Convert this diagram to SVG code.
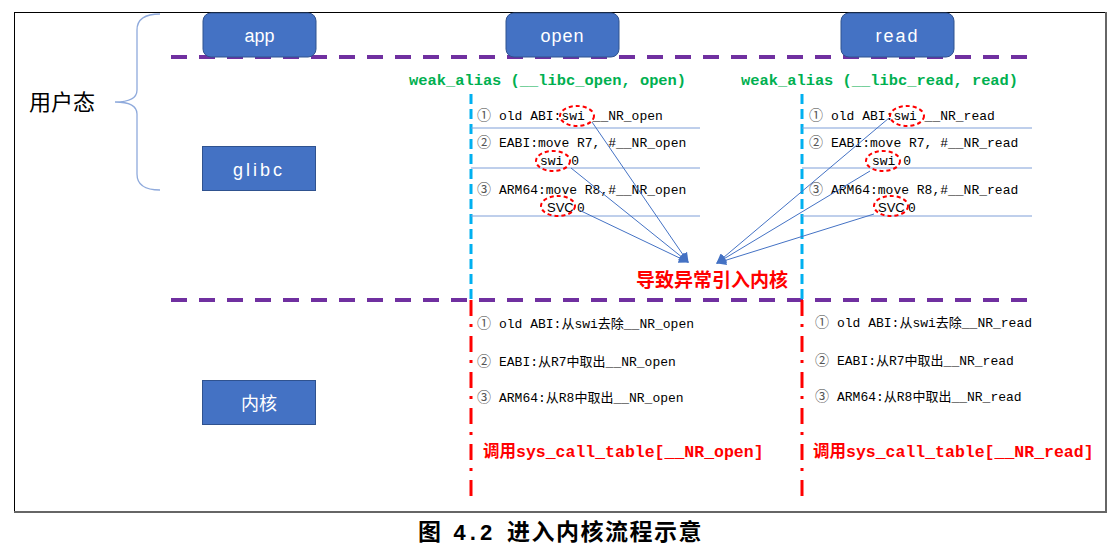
<svg xmlns="http://www.w3.org/2000/svg" width="1117" height="559" viewBox="0 0 1117 559">
<defs>
<style>
.box{fill:#4472C4;stroke:#2F528F;stroke-width:1}
.bt{fill:#fff;font-family:"Liberation Sans","Noto Sans CJK SC",sans-serif;font-size:18px;text-anchor:middle}
.purple{stroke:#7030A0;stroke-width:4;stroke-dasharray:16 12;fill:none}
.cyan{stroke:#00B0F0;stroke-width:3;stroke-dasharray:10 5;fill:none}
.reddash{stroke:#FF0000;stroke-width:3;stroke-dasharray:16 8 3 9;fill:none}
.sep{stroke:#7F9FD8;stroke-width:1}
.green{fill:#00B050;font-family:"Liberation Mono",monospace;font-weight:bold;font-size:15.4px}
.code{fill:#000;font-family:"Liberation Mono","Noto Sans CJK SC",monospace;font-size:13px}
.sym{fill:#000;font-family:"Liberation Sans","Noto Sans CJK SC",sans-serif;font-size:13px}
.circ{fill:#555;font-family:"Noto Sans CJK SC","DejaVu Sans",sans-serif;font-size:14px}
.ell{fill:none;stroke:#FF0000;stroke-width:2;stroke-dasharray:4 3}
.conn{stroke:#4472C4;stroke-width:1;fill:none}
.redb{fill:#FF0000;font-family:"Liberation Mono","Noto Sans CJK SC",monospace;font-weight:bold;font-size:16.5px}
.cap{fill:#000;font-family:"Noto Sans CJK SC",sans-serif;font-weight:bold;font-size:23px}
</style>
<marker id="ah" viewBox="0 0 10 10" refX="9" refY="5" markerWidth="10" markerHeight="10" markerUnits="userSpaceOnUse" orient="auto">
<path d="M0,0 L10,5 L0,10 z" fill="#4472C4"/>
</marker>
</defs>
<rect x="0" y="0" width="1117" height="559" fill="#fff"/>
<!-- frame -->
<line x1="14" y1="12.5" x2="1106" y2="12.5" stroke="#000" stroke-width="1"/>
<line x1="14.5" y1="12" x2="14.5" y2="512" stroke="#000" stroke-width="1"/>
<line x1="1106" y1="12" x2="1106" y2="513" stroke="#666" stroke-width="2"/>
<line x1="14" y1="512" x2="1107" y2="512" stroke="#666" stroke-width="2"/>

<!-- brace and label -->
<g id="userspace">
<path d="M160,14 Q137,14 137,30 L137,90 Q137,102 115,102 Q137,102 137,114 L137,174 Q137,190 160,190" fill="none" stroke="#8FAADC" stroke-width="1.3"/>
<text x="29" y="110" font-family="Liberation Sans,'Noto Sans CJK SC',sans-serif" font-size="22" fill="#000">用户态</text>
</g>

<!-- separators -->
<g id="layers">
<line class="purple" x1="171" y1="57" x2="1027" y2="57"/>
<line class="purple" x1="171" y1="300" x2="1027" y2="300"/>
<line class="cyan" x1="471" y1="94" x2="471" y2="300"/>
<line class="cyan" x1="802" y1="94" x2="802" y2="300"/>
<line class="reddash" x1="471" y1="300" x2="471" y2="498"/>
<line class="reddash" x1="802" y1="300" x2="802" y2="498"/>
</g>

<g id="app"><rect class="box" x="203" y="13" width="113" height="44" rx="8"/><text class="bt" x="259.5" y="42">app</text></g>
<g id="open"><rect class="box" x="506" y="13" width="113" height="44" rx="8"/><text class="bt" x="562.5" y="42" letter-spacing="1">open</text></g>
<g id="read"><rect class="box" x="841" y="13" width="113" height="44" rx="8"/><text class="bt" x="897.5" y="42" letter-spacing="2">read</text></g>
<g id="glibc"><rect class="box" x="202.5" y="146.5" width="113" height="44"/><text class="bt" x="259" y="176" letter-spacing="3">glibc</text></g>
<g id="kernel"><rect class="box" x="202.5" y="380.5" width="113" height="44"/><text class="bt" x="259" y="410" font-size="20">内核</text></g>

<!-- glibc open column -->
<g id="glibc-open">
<text class="green" x="409" y="85">weak_alias (__libc_open, open)</text>
<text class="circ" x="477" y="120">①</text>
<text class="code" x="499" y="120">old ABI:swi __NR_open</text>
<line class="sep" x1="471" y1="128" x2="700" y2="128"/>
<text class="circ" x="477" y="147">②</text>
<text class="code" x="499" y="147">EABI:move R7, #__NR_open</text>
<text class="code" x="540" y="165">swi 0</text>
<line class="sep" x1="471" y1="168" x2="700" y2="168"/>
<text class="circ" x="477" y="194">③</text>
<text class="code" x="499" y="194">ARM64:move R8,#__NR_open</text>
<text class="sym" x="547" y="212">SVC</text>
<text class="code" x="577" y="212">0</text>
<line class="sep" x1="471" y1="216" x2="700" y2="216"/>
<ellipse class="ell" cx="577" cy="116" rx="17" ry="10"/>
<ellipse class="ell" cx="553" cy="161" rx="17" ry="10"/>
<ellipse class="ell" cx="558" cy="206" rx="17" ry="10"/>
</g>

<!-- glibc read column -->
<g id="glibc-read">
<text class="green" x="741" y="85">weak_alias (__libc_read, read)</text>
<text class="circ" x="809" y="120">①</text>
<text class="code" x="831" y="120">old ABI:swi __NR_read</text>
<line class="sep" x1="802" y1="128" x2="1032" y2="128"/>
<text class="circ" x="809" y="147">②</text>
<text class="code" x="831" y="147">EABI:move R7, #__NR_read</text>
<text class="code" x="872" y="165">swi 0</text>
<line class="sep" x1="802" y1="168" x2="1032" y2="168"/>
<text class="circ" x="809" y="194">③</text>
<text class="code" x="831" y="194">ARM64:move R8,#__NR_read</text>
<text class="sym" x="878" y="212">SVC</text>
<text class="code" x="908" y="212">0</text>
<line class="sep" x1="802" y1="216" x2="1032" y2="216"/>
<ellipse class="ell" cx="907" cy="116" rx="17" ry="10"/>
<ellipse class="ell" cx="883" cy="161" rx="17" ry="10"/>
<ellipse class="ell" cx="891" cy="206" rx="17" ry="10"/>
</g>

<!-- connectors -->
<g id="connectors">
<line class="conn" x1="592" y1="122" x2="688" y2="262" marker-end="url(#ah)"/>
<line class="conn" x1="571" y1="168" x2="688" y2="262" marker-end="url(#ah)"/>
<line class="conn" x1="579" y1="210" x2="688" y2="262" marker-end="url(#ah)"/>
<line class="conn" x1="889" y1="118" x2="717" y2="263" marker-end="url(#ah)"/>
<line class="conn" x1="870" y1="171" x2="717" y2="263" marker-end="url(#ah)"/>
<line class="conn" x1="874" y1="214" x2="717" y2="263" marker-end="url(#ah)"/>
</g>

<g id="trap">
<text x="712" y="287" text-anchor="middle" fill="#FF0000" font-family="'Noto Sans CJK SC',sans-serif" font-weight="bold" font-size="19">导致异常引入内核</text>
</g>

<!-- kernel open -->
<g id="kernel-open">
<text class="circ" x="477" y="328">①</text>
<text class="code" x="499" y="328">old ABI:从swi去除__NR_open</text>
<text class="circ" x="477" y="366">②</text>
<text class="code" x="499" y="366">EABI:从R7中取出__NR_open</text>
<text class="circ" x="477" y="402">③</text>
<text class="code" x="499" y="402">ARM64:从R8中取出__NR_open</text>
<text class="redb" x="483" y="457">调用sys_call_table[__NR_open]</text>
</g>

<!-- kernel read -->
<g id="kernel-read">
<text class="circ" x="815" y="327">①</text>
<text class="code" x="837" y="327">old ABI:从swi去除__NR_read</text>
<text class="circ" x="815" y="365">②</text>
<text class="code" x="837" y="365">EABI:从R7中取出__NR_read</text>
<text class="circ" x="815" y="401">③</text>
<text class="code" x="837" y="401">ARM64:从R8中取出__NR_read</text>
<text class="redb" x="813" y="457">调用sys_call_table[__NR_read]</text>
</g>

<g id="caption">
<text class="cap" x="418" y="540">图<tspan x="453" font-family="'Liberation Mono',monospace" font-size="22">4.2</tspan><tspan x="507" letter-spacing="1.5">进入内核流程示意</tspan></text>
</g>
</svg>
